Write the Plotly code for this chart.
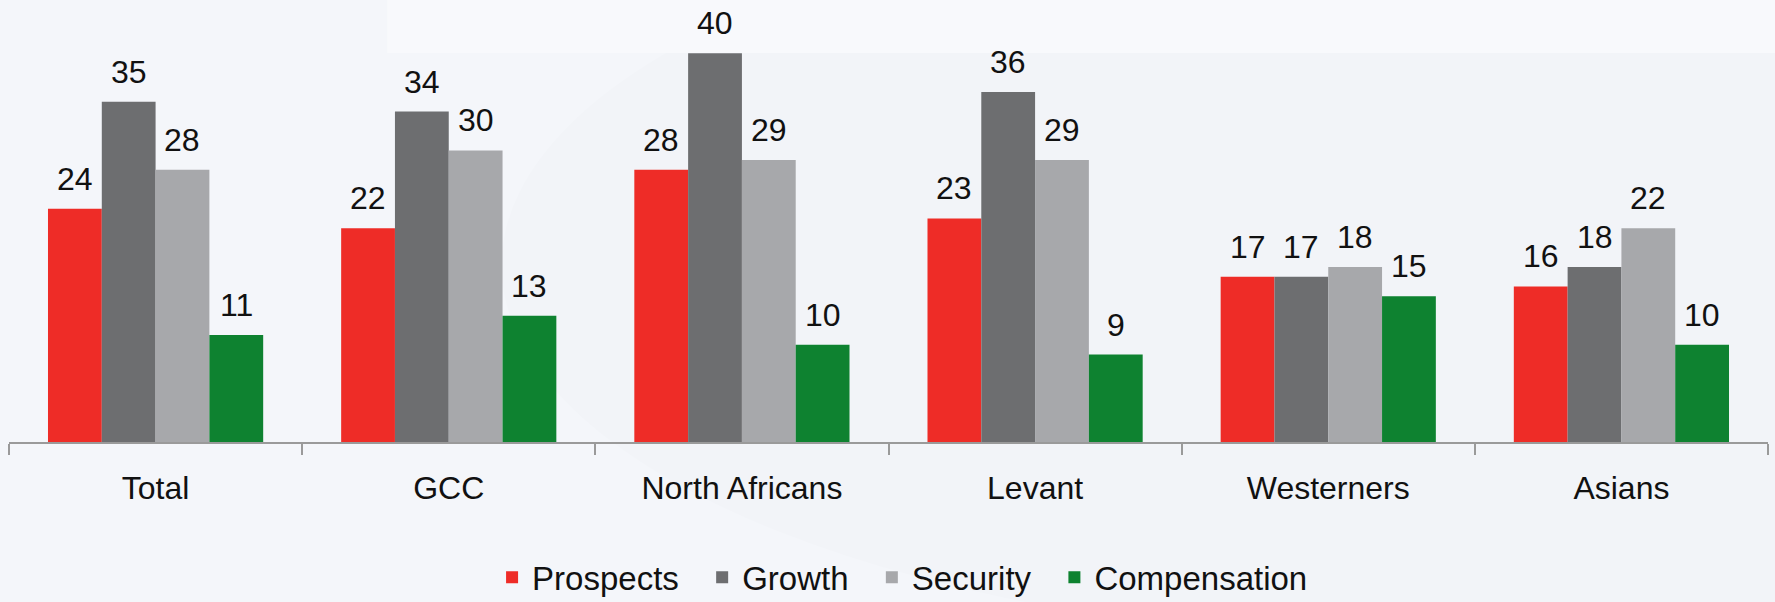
import plotly.graph_objects as go

categories = ["Total", "GCC", "North Africans", "Levant", "Westerners", "Asians"]
prospects = [24, 22, 28, 23, 17, 16]
growth = [35, 34, 40, 36, 17, 18]
security = [28, 30, 29, 29, 18, 22]
compensation = [11, 13, 10, 9, 15, 10]

series_names = ["Prospects", "Growth", "Security", "Compensation"]
series_values = [prospects, growth, security, compensation]
series_colors = ["#ee2c27", "#6d6e70", "#a7a8ab", "#0e8230"]
legend_pads = [2, 2, 2, 0]

FONT = "Arial, Liberation Sans, sans-serif"
BARGAP = 0.266

fig = go.Figure()
for name, vals, col, pad in zip(series_names, series_values, series_colors, legend_pads):
    fig.add_trace(go.Bar(
        name=name + "\u00a0" * pad, x=categories, y=vals,
        marker=dict(color=col, line=dict(width=0)),
        hovertemplate=name + ": %{y}<extra>%{x}</extra>",
    ))

# value labels above bars
n = len(series_names)
bw = (1 - BARGAP) / n
annotations = []
for si, vals in enumerate(series_values):
    off = (si - (n - 1) / 2) * bw
    for ci, v in enumerate(vals):
        annotations.append(dict(
            x=ci + off, y=v, xref="x", yref="y", text=str(v),
            showarrow=False, yanchor="bottom", xanchor="center", yshift=10,
            font=dict(family=FONT, size=32, color="#111111"),
        ))

fig.update_layout(
    width=1775, height=602,
    margin=dict(l=9, r=7, t=0, b=160, autoexpand=False),
    paper_bgcolor="#f4f6fa",
    plot_bgcolor="rgba(0,0,0,0)",
    barmode="group", bargap=BARGAP, bargroupgap=0,
    annotations=annotations,
    showlegend=True,
    legend=dict(
        orientation="h", x=0.508, xanchor="center", y=-0.306, yanchor="middle",
        font=dict(family=FONT, size=33, color="#111111"),
        bgcolor="rgba(0,0,0,0)", itemclick=False,
    ),
    shapes=[
        dict(type="circle", xref="paper", yref="paper", layer="below",
             x0=0.28, x1=1.35, y0=-0.45, y1=1.25,
             fillcolor="#f2f4f8", line=dict(width=0)),
        dict(type="rect", xref="paper", yref="paper", layer="below",
             x0=0.215, x1=1.02, y0=0.88, y1=1.02,
             fillcolor="#f8f9fc", line=dict(width=0)),
    ],
)
fig.update_xaxes(
    type="category", showline=True, linecolor="#9a9a9a", linewidth=2,
    ticks="outside", tickson="boundaries", ticklen=11, tickcolor="#9a9a9a", tickwidth=1.5,
    tickfont=dict(family=FONT, size=32, color="#111111"),
    ticklabelstandoff=17, showgrid=False, zeroline=False,
)
fig.update_yaxes(
    range=[0, 442 / 9.72], visible=False, showgrid=False, zeroline=False,
)

fig.write_html("out.html")
